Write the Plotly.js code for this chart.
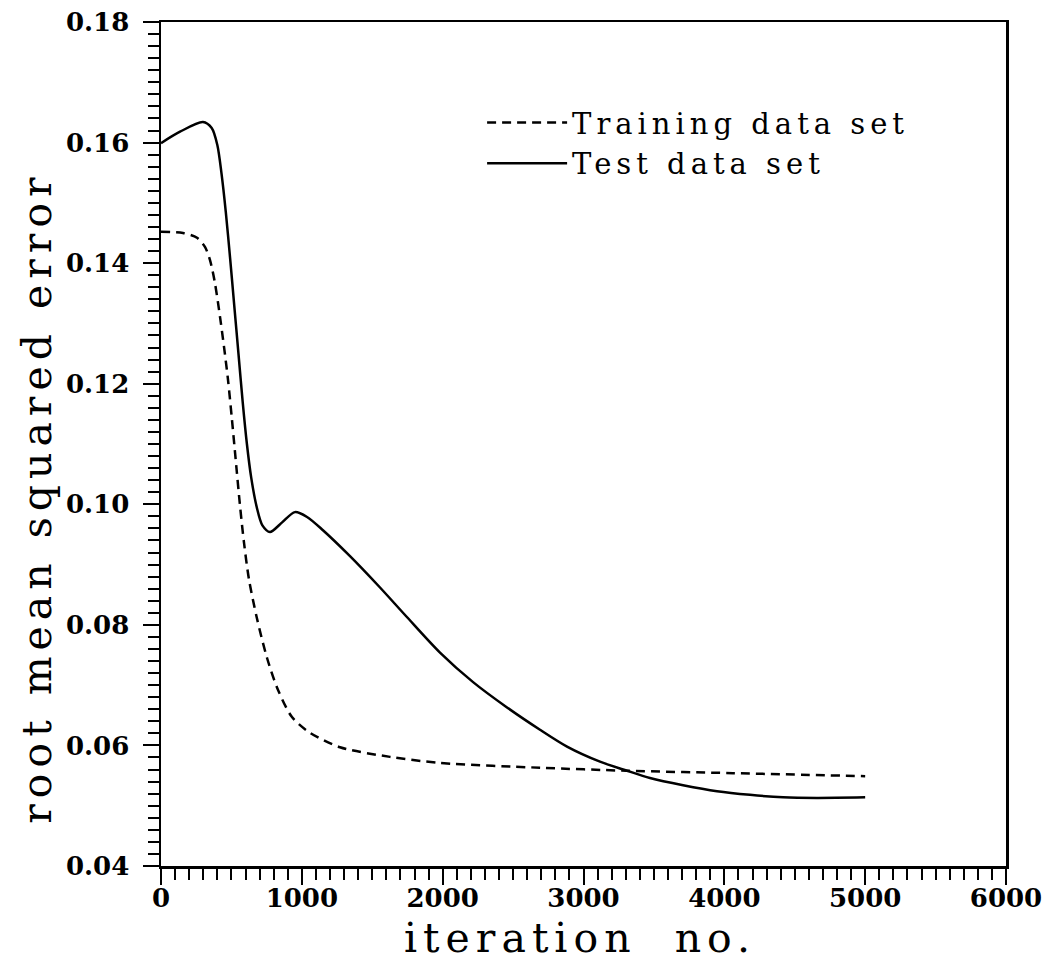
<!DOCTYPE html>
<html>
<head>
<meta charset="utf-8">
<script src="https://cdn.plot.ly/plotly-3.0.1.min.js"></script>
<style>
html,body{margin:0;padding:0;background:#fff;}
#chart{width:1052px;height:964px;}
.annotation-text{letter-spacing:6px;}
.legendtext{letter-spacing:5px;}
</style>
</head>
<body>
<div id="chart"></div>
<script>
// Training data set (dashed)
var trainIter = [0, 156, 256, 312, 348, 383, 419, 447, 476, 504, 530, 560, 590, 625, 682, 753, 831, 930, 1058, 1271, 1626, 1981, 2691, 3309, 4062, 5000];
var trainRmse = [0.1452, 0.1450, 0.1442, 0.1427, 0.1405, 0.1367, 0.1311, 0.1262, 0.1206, 0.1140, 0.1075, 0.1000, 0.0935, 0.0875, 0.0810, 0.0745, 0.0692, 0.0647, 0.0621, 0.0597, 0.0581, 0.0571, 0.0563, 0.0558, 0.0554, 0.0549];

// Test data set (solid)
var testIter = [0, 135, 298, 360, 400, 430, 460, 490, 520, 550, 580, 610, 640, 680, 720, 774, 860, 951, 1037, 1150, 1342, 1555, 1746, 1981, 2216, 2457, 2691, 2883, 3117, 3309, 3472, 3707, 3948, 4182, 4417, 4658, 5000];
var testRmse = [0.1599, 0.1618, 0.1634, 0.1624, 0.1596, 0.1548, 0.1485, 0.1410, 0.1330, 0.1250, 0.1170, 0.1100, 0.1045, 0.0995, 0.0965, 0.0954, 0.0970, 0.0987, 0.0979, 0.0957, 0.0914, 0.0862, 0.0813, 0.0754, 0.0705, 0.0663, 0.0626, 0.0598, 0.0573, 0.0558, 0.0546, 0.0534, 0.0524, 0.0518, 0.0514, 0.0513, 0.0514];

var seriesNames = ["Training data set", "Test data set"];
var xTitle = "iteration  no.";
var yTitle = "root mean squared error";

var traces = [
  {x: trainIter, y: trainRmse, name: seriesNames[0], mode: 'lines',
   line: {color: '#000', width: 2.5, dash: '9px,6px', shape: 'spline', smoothing: 0.8}},
  {x: testIter, y: testRmse, name: seriesNames[1], mode: 'lines',
   line: {color: '#000', width: 2.5, shape: 'spline', smoothing: 0.8}}
];

var tickFont = {family: 'DejaVu Serif, serif', size: 26, color: '#000', weight: 'bold'};
var titleFont = {family: 'DejaVu Serif, serif', size: 41, color: '#000'};
var layout = {
  width: 1052, height: 964,
  margin: {l: 161, r: 46, t: 22, b: 98},
  paper_bgcolor: '#fff', plot_bgcolor: '#fff',
  showlegend: true,
  legend: {x: 0.38, y: 0.911, xanchor: 'left', yanchor: 'top', bgcolor: 'rgba(0,0,0,0)',
           font: {family: 'DejaVu Serif, serif', size: 29, color: '#000'},
           tracegroupgap: 0, itemwidth: 80},
  xaxis: {
    range: [0, 6000], dtick: 1000, tick0: 0,
    showgrid: false, zeroline: false,
    showline: true, linecolor: '#000', linewidth: 2.5, mirror: true,
    ticks: 'outside', ticklen: 16, tickwidth: 2, tickcolor: '#000',
    minor: {dtick: 100, ticks: 'outside', ticklen: 11, tickwidth: 2, tickcolor: '#000', showgrid: false},
    tickfont: tickFont, ticklabelstandoff: -9
  },
  yaxis: {
    range: [0.04, 0.18], dtick: 0.02, tick0: 0.04, tickformat: '.2f',
    showgrid: false, zeroline: false,
    showline: true, linecolor: '#000', linewidth: 2.5, mirror: true,
    ticks: 'outside', ticklen: 16, tickwidth: 2, tickcolor: '#000',
    minor: {dtick: 0.002, ticks: 'outside', ticklen: 11, tickwidth: 2, tickcolor: '#000', showgrid: false},
    tickfont: tickFont, ticklabelstandoff: 8
  },
  annotations: [
    {text: xTitle, xref: 'paper', yref: 'paper', x: 0.496, y: -0.0855, xanchor: 'center', yanchor: 'middle',
     showarrow: false, font: titleFont, borderpad: 0},
    {text: yTitle, xref: 'paper', yref: 'paper', x: -0.146, y: 0.437, xanchor: 'center', yanchor: 'middle',
     textangle: -90, showarrow: false, font: titleFont}
  ]
};

Plotly.newPlot('chart', traces, layout, {displayModeBar: false, staticPlot: true});
</script>
</body>
</html>
